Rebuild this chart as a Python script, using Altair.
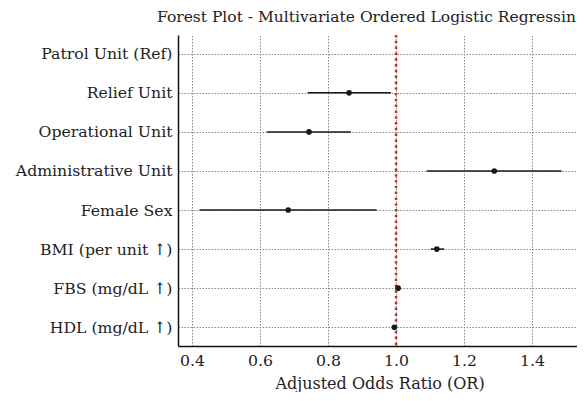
import altair as alt
import pandas as pd

labels = ["Patrol Unit (Ref)", "Relief Unit", "Operational Unit", "Administrative Unit",
          "Female Sex", "BMI (per unit ↑)", "FBS (mg/dL ↑)", "HDL (mg/dL ↑)"]
or_vals = [None, 0.862, 0.744, 1.289, 0.683, 1.120, 1.006, 0.995]
ci_low = [None, 0.740, 0.620, 1.090, 0.422, 1.102, 1.002, 0.991]
ci_high = [None, 0.985, 0.867, 1.487, 0.943, 1.142, 1.010, 0.999]
x_ticks = [0.4, 0.6, 0.8, 1.0, 1.2, 1.4]
ref_value = [1.0]

df = pd.DataFrame({"label": labels, "or": or_vals, "lo": ci_low, "hi": ci_high})
ref_df = pd.DataFrame({"v": ref_value})

FONT = "DejaVu Serif"
XTITLE = "Adjusted Odds Ratio (OR)"

xscale = alt.Scale(domain=[0.3588, 1.544], nice=False, zero=False)
yscale = alt.Scale(type="point", domain=labels, padding=0.48)

xaxis = alt.Axis(values=x_ticks, format=".1f", title=XTITLE, ticks=False,
                 grid=True, labelPadding=7, titlePadding=8)
yaxis = alt.Axis(title=None, ticks=False, grid=True, labelPadding=6)

base = alt.Chart(df)

ci = base.mark_rule(color="#1a1a1a", strokeWidth=1.5).encode(
    x=alt.X("lo:Q", scale=xscale, axis=xaxis, title=XTITLE),
    x2="hi:Q",
    y=alt.Y("label:N", scale=yscale, axis=yaxis, sort=labels),
)

ref = alt.Chart(ref_df).mark_rule(color="#d62728", strokeDash=[2.5, 3.3], strokeWidth=2.5).encode(
    x=alt.X("v:Q", scale=xscale, axis=xaxis, title=XTITLE),
)

pts = base.mark_circle(size=32, color="#1a1a1a", opacity=1).encode(
    x=alt.X("or:Q", scale=xscale, axis=xaxis, title=XTITLE),
    y=alt.Y("label:N", scale=yscale, axis=yaxis, sort=labels),
)

chart = alt.layer(ci, ref, pts).properties(
    width=403,
    height=311,
    title=alt.TitleParams("Forest Plot - Multivariate Ordered Logistic Regressin",
                          font=FONT, fontSize=15.5, fontWeight="normal", color="#222",
                          offset=8, anchor="middle", dx=-13),
    autosize=alt.AutoSizeParams(type="none"),
    padding={"left": 170, "top": 27, "right": -4, "bottom": 46},
).configure_view(stroke=None).configure_axis(
    labelFont=FONT, titleFont=FONT, labelFontSize=15.7, titleFontSize=16,
    labelColor="#222", titleColor="#222", titleFontWeight="normal",
    domainColor="#111", domainWidth=1.5,
    gridColor="#888", gridDash=[1.5, 1.5], gridWidth=1,
)

chart.save("out.html", embed_options={"renderer": "svg", "actions": False})
